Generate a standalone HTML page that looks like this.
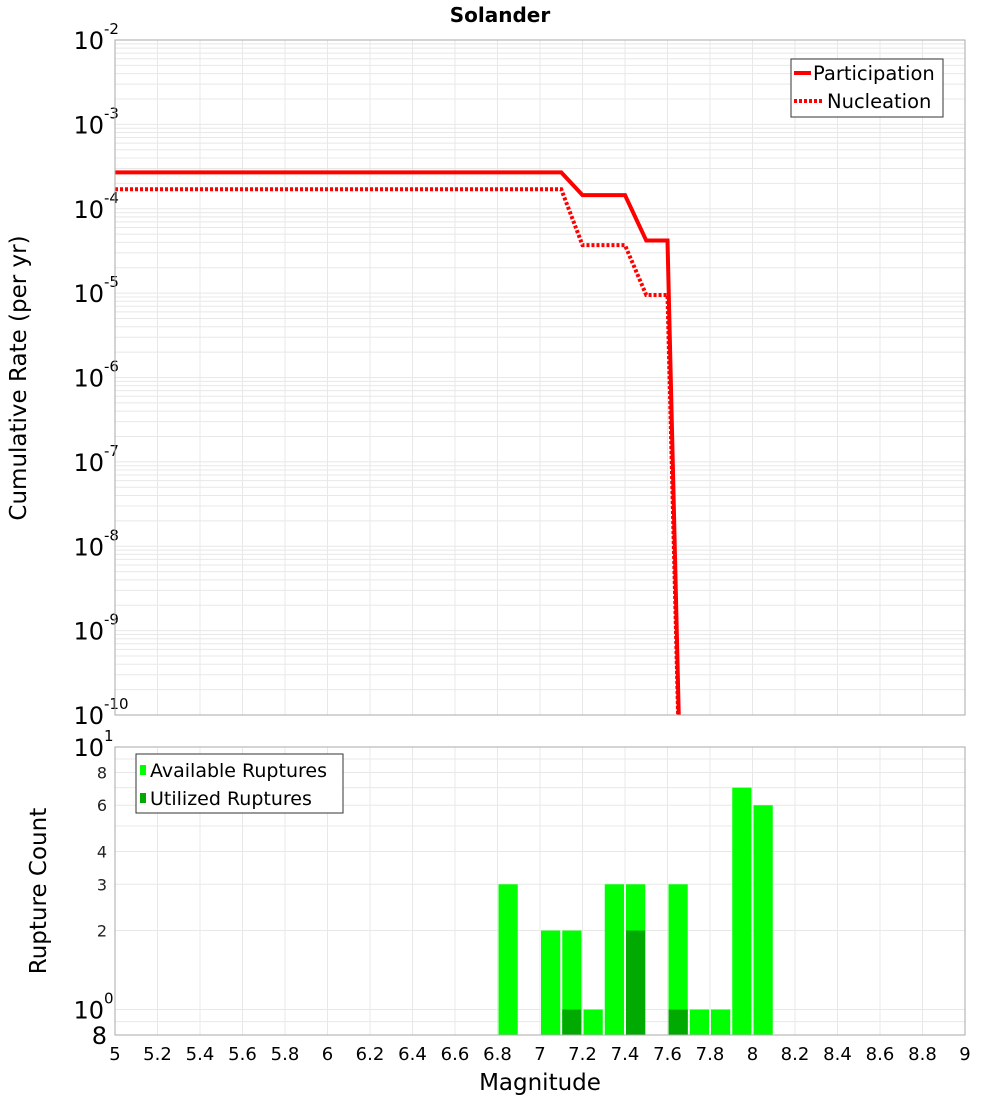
<!DOCTYPE html>
<html><head><meta charset="utf-8"><style>
body{margin:0;background:#fff}
svg{display:block;font-family:"DejaVu Sans","Liberation Sans",sans-serif}
</style></head><body>
<svg id="c" width="1000" height="1100" viewBox="0 0 1000 1100">
<defs><clipPath id="cp"><rect x="115" y="40" width="850" height="675"/></clipPath></defs>
<text x="500" y="22" text-anchor="middle" font-size="20" font-weight="bold">Solander</text>
<g id="gtop"></g>
<g id="gbot"></g>
<text transform="translate(26,378) rotate(-90)" text-anchor="middle" font-size="23">Cumulative Rate (per yr)</text>
<text transform="translate(46,891) rotate(-90)" text-anchor="middle" font-size="23">Rupture Count</text>
<text x="540" y="1090" text-anchor="middle" font-size="23">Magnitude</text>
<g id="leg1">
<rect x="791" y="59" width="152" height="58" fill="#fff" stroke="#333"/>
<line x1="794" y1="73" x2="811" y2="73" stroke="#f00" stroke-width="4"/>
<text x="813" y="80" font-size="19.5">Participation</text>
<line x1="794" y1="101" x2="822" y2="101" stroke="#f00" stroke-width="4" stroke-dasharray="3,2"/>
<text x="827" y="108" font-size="19.5">Nucleation</text>
</g>
<g id="leg2">
<rect x="136" y="754" width="207" height="59" fill="#fff" stroke="#333"/>
<rect x="140" y="765" width="6" height="10" fill="#00ff00"/>
<text x="150" y="777" font-size="19">Available Ruptures</text>
<rect x="140" y="793" width="6" height="10" fill="#00aa00"/>
<text x="150" y="805" font-size="19">Utilized Ruptures</text>
</g>
</svg>
<script>
const partMags=[5.0,7.1,7.2,7.4,7.5,7.6,7.7];
const partRates=[2.7e-4,2.7e-4,1.45e-4,1.45e-4,4.2e-5,4.2e-5,1e-15];
const nuclMags=[5.0,7.1,7.2,7.4,7.5,7.6,7.7];
const nuclRates=[1.7e-4,1.7e-4,3.7e-5,3.7e-5,9.5e-6,9.5e-6,1e-15];
const binCenters=[6.85,7.05,7.15,7.25,7.35,7.45,7.65,7.75,7.85,7.95,8.05];
const availCounts=[3,2,2,1,3,3,3,1,1,7,6];
const utilCounts=[0,0,1,0,0,2,1,0,0,0,0];
const xTicks=[5,5.2,5.4,5.6,5.8,6,6.2,6.4,6.6,6.8,7,7.2,7.4,7.6,7.8,8,8.2,8.4,8.6,8.8,9];
const topExp=[-2,-3,-4,-5,-6,-7,-8,-9,-10];
const botTickVals=[2,3,4,6,8];

const NS="http://www.w3.org/2000/svg";
const PL=115,PR=965,T1=40,B1=715,T2=747,B2=1035;
const xs=m=>PL+(m-5)/4*(PR-PL);
const y1=v=>T1+(-2-Math.log10(v))/8*(B1-T1);
const lmin=Math.log10(0.8),lmax=1;
const y2=v=>B2-(Math.log10(v)-lmin)/(lmax-lmin)*(B2-T2);
function mk(p,tag,at){const e=document.createElementNS(NS,tag);for(const k in at)e.setAttribute(k,at[k]);p.appendChild(e);return e;}
const gTop=document.getElementById('gtop'),gBot=document.getElementById('gbot');
for(let d=-10;d<-2;d++)for(let k=1;k<10;k++){const yy=y1(k*Math.pow(10,d));
 const g=mk(gTop,'line',{x1:PL,x2:PR,y1:yy,y2:yy,stroke:'#e8e8e8'});
 
 }
[0.9,1,2,3,4,5,6,7,8,9].forEach(v=>{const yy=y2(v);
 const g=mk(gBot,'line',{x1:PL,x2:PR,y1:yy,y2:yy,stroke:'#e8e8e8'});
 
 });
xTicks.forEach(t=>{const xx=xs(t);
 let g=mk(gTop,'line',{x1:xx,x2:xx,y1:T1,y2:B1,stroke:'#e8e8e8'});
 
 
 g=mk(gBot,'line',{x1:xx,x2:xx,y1:T2,y2:B2,stroke:'#e8e8e8'});
 
 
 const tx=mk(gBot,'text',{x:xx,y:1060,'text-anchor':'middle','font-size':18});
 tx.textContent=String(t);
 
 });
topExp.forEach(e=>{const yy=y1(Math.pow(10,e));
 const tx=mk(gTop,'text',{x:104,y:yy+9,'text-anchor':'end','font-size':24});
 tx.textContent='10';
 
 
 const s=mk(gTop,'text',{x:104,y:yy-6,'font-size':15});s.textContent=String(e);
 
 });
botTickVals.forEach(v=>{const tx=mk(gBot,'text',{x:107,y:y2(v)+6,'text-anchor':'end','font-size':16,fill:'#222'});
 tx.textContent=String(v);
 
 });
[[1,'0'],[10,'1']].forEach(([v,e])=>{const yy=y2(v);
 const tx=mk(gBot,'text',{x:104,y:yy+9,'text-anchor':'end','font-size':24});tx.textContent='10';
 
 
 const s=mk(gBot,'text',{x:104,y:yy-6,'font-size':15});s.textContent=e;
 
 });
const t8=mk(gBot,'text',{x:107,y:B2+9,'text-anchor':'end','font-size':24});t8.textContent='8';


const bw=(xs(0.1)-xs(0))-2;
binCenters.forEach((c,i)=>{const x0=xs(c)-bw/2;
 let b=mk(gBot,'rect',{x:x0,y:y2(availCounts[i]),width:bw,height:B2-y2(availCounts[i]),fill:'#00ff00'});
 
 
 if(utilCounts[i]>0){b=mk(gBot,'rect',{x:x0,y:y2(utilCounts[i]),width:bw,height:B2-y2(utilCounts[i]),fill:'#00aa00'});
 
 }});
let ln=mk(gTop,'polyline',{points:nuclMags.map((m,i)=>xs(m)+','+y1(nuclRates[i])).join(' '),fill:'none',stroke:'#f00','stroke-width':4,'stroke-dasharray':'3,2','clip-path':'url(#cp)'});


ln=mk(gTop,'polyline',{points:partMags.map((m,i)=>xs(m)+','+y1(partRates[i])).join(' '),fill:'none',stroke:'#f00','stroke-width':4,'clip-path':'url(#cp)'});


let f=mk(gTop,'rect',{x:PL,y:T1,width:PR-PL,height:B1-T1,fill:'none',stroke:'#aaa'});


f=mk(gBot,'rect',{x:PL,y:T2,width:PR-PL,height:B2-T2,fill:'none',stroke:'#aaa'});


const svgEl=document.getElementById('c');
svgEl.appendChild(document.getElementById('leg1'));
svgEl.appendChild(document.getElementById('leg2'));
</script>
</body></html>
